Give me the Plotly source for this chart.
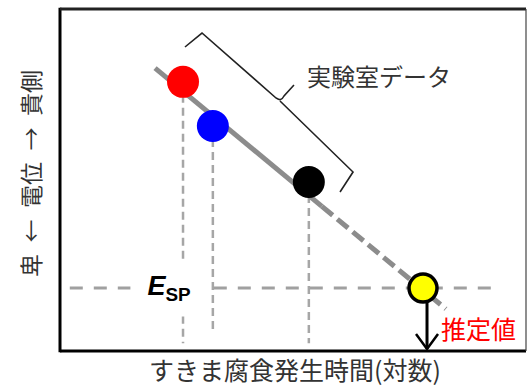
import plotly.graph_objects as go

# ---- data (arbitrary units: x = log time, y = potential) ----
lab_names = ["lab1", "lab2", "lab3"]
lab_x = [26.4, 32.8, 53.4]
lab_y = [78.7, 65.8, 49.4]
lab_colors = ["#ff0000", "#0000ff", "#000000"]
drop_bottom = [2.3, 6.1, 2.3]

est_x = [77.9]
est_y = [18.4]

fit_solid_x = [20.4, 56.2]
fit_solid_y = [82.7, 42.3]
fit_dash_x = [56.2, 82.8]
fit_dash_y = [42.3, 12.3]

esp_line_x = [2.1, 92.5]

x_title = "すきま腐食発生時間(対数)"
y_title = "卑 ← 電位 → 貴側"
lab_label = "実験室データ"
est_label = "推定値"

FONT = "Noto Sans CJK JP"
W, H = 529, 387
ML, MR, MT, MB = 60, 3, 9, 36
PW, PH = W - ML - MR, H - MT - MB

def dx(px):  # pixel offset -> data units (x)
    return px / PW * 100

def dy(px):
    return px / PH * 100

fig = go.Figure()

# vertical drop lines
for x, y, yb in zip(lab_x, lab_y, drop_bottom):
    fig.add_trace(go.Scatter(x=[x, x], y=[y, yb], mode="lines",
                             line=dict(color="#a6a6a6", width=2.5, dash="8px,5px"),
                             hoverinfo="skip", showlegend=False))

# horizontal E_SP line
fig.add_trace(go.Scatter(x=esp_line_x, y=[est_y[0], est_y[0]], mode="lines",
                         line=dict(color="#a0a0a0", width=3, dash="13px,11px"),
                         hoverinfo="skip", showlegend=False))

# fit line
fig.add_trace(go.Scatter(x=fit_solid_x, y=fit_solid_y, mode="lines",
                         line=dict(color="#8c8c8c", width=5),
                         hoverinfo="skip", showlegend=False))
fig.add_trace(go.Scatter(x=fit_dash_x, y=fit_dash_y, mode="lines",
                         line=dict(color="#8c8c8c", width=5, dash="14px,6px"),
                         hoverinfo="skip", showlegend=False))

# lab points
fig.add_trace(go.Scatter(x=lab_x, y=lab_y, mode="markers",
                         marker=dict(size=32, color=lab_colors, line=dict(width=0)),
                         hoverinfo="skip", showlegend=False))
# estimated point
fig.add_trace(go.Scatter(x=est_x, y=est_y, mode="markers",
                         marker=dict(size=28, color="#ffff00", line=dict(width=3.5, color="#000000")),
                         hoverinfo="skip", showlegend=False))

shapes = []
# frame
shapes += [
    dict(type="line", xref="paper", yref="paper", x0=0, x1=0, y0=-0.004, y1=1.004, line=dict(color="#000", width=3)),
    dict(type="line", xref="paper", yref="paper", x0=0, x1=1, y0=0, y1=0, line=dict(color="#000", width=3)),
    dict(type="line", xref="paper", yref="paper", x0=0, x1=1, y0=1, y1=1, line=dict(color="#222", width=3)),
    dict(type="line", xref="paper", yref="paper", x0=1, x1=1, y0=0, y1=1, line=dict(color="#444", width=1.2)),
]

# arrow from estimated point down to axis
ax = est_x[0] + dx(4)
top = est_y[0] - dy(14)
bot = dy(2)
shapes.append(dict(type="line", x0=ax, x1=ax, y0=top, y1=bot, line=dict(color="#000", width=3)))
shapes.append(dict(type="path",
                   path=f"M {ax-dx(11)} {bot+dy(15)} L {ax} {bot} L {ax+dx(11)} {bot+dy(15)}",
                   line=dict(color="#000", width=2.5)))

# brace (pixel -> data helper)
def P(px, py):
    return f"{(px-ML)/PW*100:.2f} {(MT+PH-py)/PH*100:.2f}"

brace = ("M " + P(185, 47) + " L " + P(202, 33) + " L " + P(276, 98) +
         " Q " + P(281, 102) + " " + P(284, 96) + " L " + P(294, 85) +
         " M " + P(280, 101) + " L " + P(353, 172) + " L " + P(340, 192))
shapes.append(dict(type="path", path=brace, line=dict(color="#222", width=1.6)))

annotations = [
    dict(x=23.4, y=est_y[0], xref="x", yref="y",
         text="<b><i>E</i></b><sub><b>SP</b></sub>", showarrow=False,
         font=dict(family="Liberation Sans", size=27, color="#000"),
         bgcolor="#ffffff", width=74, height=54),
    dict(x=68.5, y=80.7, xref="x", yref="y", text=lab_label, showarrow=False,
         font=dict(family=FONT, size=24, color="#333")),
    dict(x=89.7, y=6.7, xref="x", yref="y", text=est_label, showarrow=False,
         font=dict(family=FONT, size=25, color="#ff0000")),
    dict(x=-30 / PW, y=(MT + PH - 174) / PH, xref="paper", yref="paper",
         xanchor="center", yanchor="middle",
         text=y_title.replace(" ", "\u2002"), textangle=-90, showarrow=False,
         font=dict(family=FONT, size=23, color="#333")),
    dict(x=(295 - ML) / PW, y=(MT + PH - 369) / PH, xref="paper", yref="paper",
         xanchor="center", yanchor="middle",
         text=x_title, showarrow=False,
         font=dict(family=FONT, size=25, color="#333")),
]

fig.update_layout(
    width=W, height=H,
    margin=dict(l=ML, r=MR, t=MT, b=MB, pad=0),
    paper_bgcolor="white", plot_bgcolor="white",
    xaxis=dict(range=[0, 100], showgrid=False, zeroline=False, showticklabels=False,
               ticks="", showline=False, fixedrange=True),
    yaxis=dict(range=[0, 100], showgrid=False, zeroline=False, showticklabels=False,
               ticks="", showline=False, fixedrange=True),
    shapes=shapes, annotations=annotations,
)

fig.write_html("out.html", config={"displayModeBar": False},
               post_script="document.body.style.margin='0';document.body.style.overflow='hidden';")
